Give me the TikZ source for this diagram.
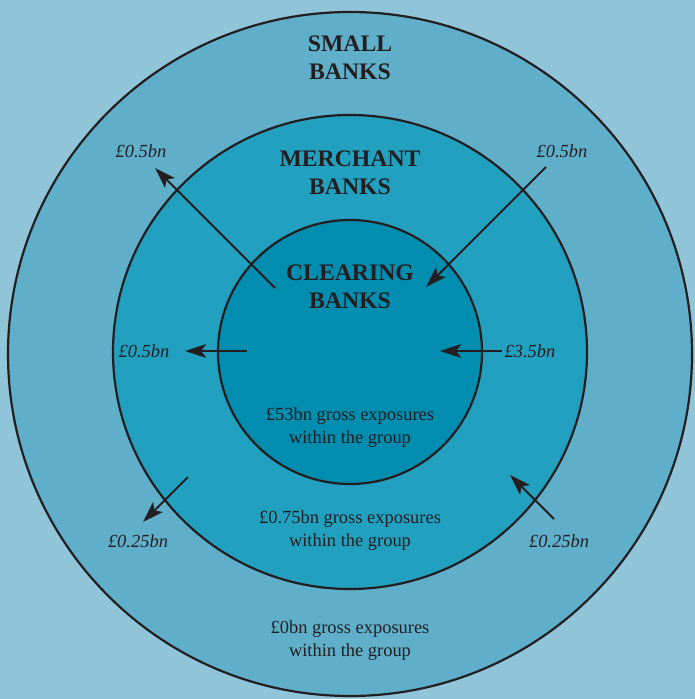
\documentclass[tikz,border=0pt]{standalone}
\usepackage{fontspec}
\setmainfont{Liberation Serif}
\usetikzlibrary{positioning,arrows.meta}
\definecolor{bgblue}{HTML}{8FC4D9}
\definecolor{smallblue}{HTML}{5FAFCB}
\definecolor{merchblue}{HTML}{22A0C0}
\definecolor{clearblue}{HTML}{008DB0}
\definecolor{inkgray}{HTML}{231F20}

\begin{document}
\begin{tikzpicture}[x=0.02cm,y=-0.02cm,
  ring/.style={draw=inkgray,line width=1.25pt},
  flow/.style={draw=inkgray,line width=1.1pt,-{Stealth[length=12pt,width=7.8pt,inset=2.8pt]}},
  bankname/.style={text=inkgray,font=\fontsize{13.5}{16}\selectfont\bfseries,align=center},
  groupsum/.style={text=inkgray,font=\fontsize{10.5}{13}\selectfont,align=center},
  amount/.style={text=inkgray,font=\fontsize{10.5}{13}\selectfont\itshape}]
  \useasboundingbox (0,0) rectangle (695,699);
  \fill[bgblue] (0,0) rectangle (695,699); %背景

  % three groups of banks
  \draw[ring,fill=smallblue] (350,354) circle[radius=342];
  \draw[ring,fill=merchblue] (350,352) circle[radius=237];
  \draw[ring,fill=clearblue] (350,352) circle[radius=132];

  \node[bankname] (small) at (350,58) {SMALL\\BANKS};
  \node[bankname] (merchant) at (350,173) {MERCHANT\\BANKS};
  \node[bankname] (clearing) at (350,287) {CLEARING\\BANKS};

  \node[groupsum] (clearsum) at (350,428) {£53bn gross exposures\\within the group};
  \node[groupsum] (merchsum) at (350,531) {£0.75bn gross exposures\\within the group};
  \node[groupsum] (smallsum) at (350,641) {£0bn gross exposures\\within the group};

  % exposures between groups
  \coordinate (ulfrom) at (275,288);  \coordinate (ulto) at (155,168);
  \coordinate (urfrom) at (546,167);  \coordinate (urto) at (426,287);
  \coordinate (lfrom) at (247,351);   \coordinate (lto) at (185,351);
  \coordinate (rfrom) at (502,351);   \coordinate (rto) at (440,351);
  \coordinate (llfrom) at (188,477);  \coordinate (llto) at (143,522);
  \coordinate (lrfrom) at (554,519);  \coordinate (lrto) at (510,475);

  \draw[flow] (ulfrom)--(ulto);
  \draw[flow] (urfrom)--(urto);
  \draw[flow] (lfrom)--(lto);
  \draw[flow] (rfrom)--(rto);
  \draw[flow] (llfrom)--(llto);
  \draw[flow] (lrfrom)--(lrto);

  \node[amount] (ulamt) at (141,151) {£0.5bn};
  \node[amount] (uramt) at (562,151) {£0.5bn};
  \node[amount] (lamt) at (144,351) {£0.5bn};
  \node[amount] (ramt) at (530,351) {£3.5bn};
  \node[amount] (llamt) at (138,541) {£0.25bn};
  \node[amount] (lramt) at (559,541) {£0.25bn};
\end{tikzpicture}
\end{document}
